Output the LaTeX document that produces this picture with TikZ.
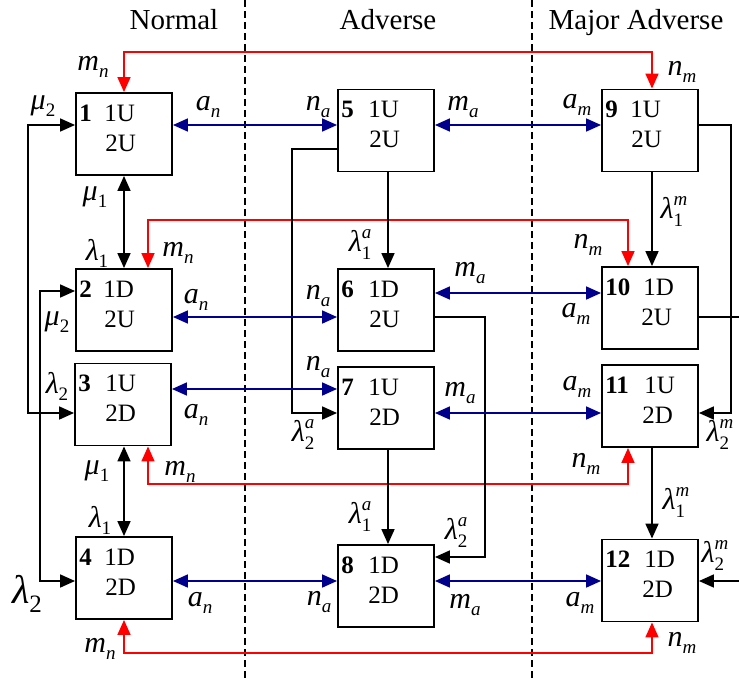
\documentclass[tikz,border=0pt]{standalone}
\usepackage{fontspec}
\setmainfont{Liberation Serif}
\usetikzlibrary{arrows.meta}
\definecolor{navyc}{RGB}{0,0,140}
\definecolor{redc}{RGB}{255,0,0}
\newcommand{\subsz}{\fontsize{19}{19}\selectfont}
\newcommand{\lbA}[2]{\textit{#1}\raisebox{-7pt}{\subsz\textit{#2}}}
\newcommand{\lbN}[2]{\textit{#1}\raisebox{-7pt}{\subsz #2}}
\newcommand{\lbS}[3]{\textit{#1}\rlap{\raisebox{-8pt}{\subsz #2}}\raisebox{13pt}{\subsz\textit{#3}}}
\newcommand{\stbox}[8]{%
  \node[box] (#1) at (#2,#3) {};
  \node[numtxt] (#1n) at ([xshift=4pt,yshift=-29pt]#1.north west) {#4};
  \node[sttxt] (#1a) at ([xshift=#7pt,yshift=-29pt]#1.north west) {#5};
  \node[sttxt] (#1b) at ([xshift=#8pt,yshift=-59pt]#1.north west) {#6};
}
\tikzset{
 box/.style={draw, line width=1.9pt, minimum width=96pt, minimum height=82pt, inner sep=0pt, fill=white},
 conn/.style={line width=1.7pt},
 blk/.style={conn, draw=black},
 blu/.style={conn, draw=navyc},
 rd/.style={conn, draw=redc},
 lab/.style={inner sep=0pt, font=\fontsize{30}{30}\selectfont},
 hdr/.style={inner sep=0pt, anchor=base, font=\fontsize{29}{29}\selectfont},
 numtxt/.style={inner sep=0pt, anchor=base west, font=\fontsize{25}{25}\selectfont\bfseries},
 sttxt/.style={inner sep=0pt, anchor=base west, font=\fontsize{25}{25}\selectfont},
 sepline/.style={line width=1.2pt, dash pattern=on 7pt off 4pt},
}
\begin{document}
\begin{tikzpicture}[x=1pt,y=-1pt,>={Triangle[length=15pt,width=13pt]}]
\useasboundingbox (0,0) rectangle (739,681);
% separators
\coordinate (d1a) at (245,0); \coordinate (d1b) at (245,681);
\coordinate (d2a) at (532,0); \coordinate (d2b) at (532,681);
\draw[sepline] (d1a) -- (d1b);
\draw[sepline] (d2a) -- (d2b);
% headers
\node[hdr] (t1) at (174,29) {Normal};
\node[hdr] (t2) at (388,29) {Adverse};
\node[hdr] (t3) at (636,29) {Major Adverse};
% levels
\coordinate (h125) at (0,125);
\coordinate (h149) at (0,149);
\coordinate (h291) at (0,291);
\coordinate (h293) at (0,293);
\coordinate (h317) at (0,317);
\coordinate (h389) at (0,389);
\coordinate (h413) at (0,413);
\coordinate (h557) at (0,557);
\coordinate (h581) at (0,581);
% boxes
\stbox{b1}{124}{134}{1}{1U}{2U}{29}{30}
\stbox{b2}{124}{310}{2}{1D}{2U}{28}{29}
\stbox{b3}{123}{404.5}{3}{1U}{2D}{31}{31}
\stbox{b4}{124}{578}{4}{1D}{2D}{29}{30}
\stbox{b5}{386}{130.5}{5}{1U}{2U}{31}{32}
\stbox{b6}{386}{310}{6}{1D}{2U}{31}{32}
\stbox{b7}{386}{408}{7}{1U}{2D}{31}{32}
\stbox{b8}{386}{586}{8}{1D}{2D}{31}{31}
\stbox{b9}{650}{130.5}{9}{1U}{2U}{29}{30}
\stbox{b10}{650}{308}{10}{1D}{2U}{42}{40}
\stbox{b11}{650}{406}{11}{1U}{2D}{43}{41}
\stbox{b12}{650}{580.5}{12}{1D}{2D}{43}{41}
% red connectors
\coordinate (r1) at (400,52);
\coordinate (r2) at (400,220);
\coordinate (r3) at (400,484);
\coordinate (r4) at (400,653);
\draw[rd,<->] (b1.north) |- (r1) -| ([xshift=2pt]b9.north);
\draw[rd,<->] ([xshift=24pt]b2.north) |- (r2) -| ([xshift=-22pt]b10.north);
\draw[rd,<->] ([xshift=25pt]b3.south) |- (r3) -| ([xshift=-22pt]b11.south);
\draw[rd,<->] (b4.south) |- (r4) -| ([xshift=2pt]b12.south);
% black connectors
\coordinate (cA) at (28,413);
\coordinate (cB) at (40,581);
\coordinate (cC) at (292,413);
\coordinate (cD) at (485,557);
\coordinate (cE) at (731,413);
\coordinate (eR1) at (739,317);
\coordinate (eR2) at (739,581);
\draw[blk,<->] (b1.south) -- (b1.south |- b2.north);
\draw[blk,<->] (b4.north |- b3.south) -- (b4.north);
\draw[blk,<->] (b1.west |- h125) -| (cA) -- (b3.west |- h413);
\draw[blk,<->] (b2.west |- h291) -| (cB) -- (b4.west |- h581);
\draw[blk,->] ([xshift=2pt]b5.south) -- ([xshift=2pt]b6.north);
\draw[blk,->] (b5.west |- h149) -| (cC) -- (b7.west |- h413);
\draw[blk,->] (b6.east |- h317) -| (cD) -- (b8.east |- h557);
\draw[blk,->] ([xshift=2pt]b7.south) -- ([xshift=2pt]b8.north);
\draw[blk,->] ([xshift=2pt]b9.south) -- ([xshift=2pt]b10.north);
\draw[blk,->] (b9.east |- h125) -| (cE) -- (b11.east |- h413);
\draw[blk] (b10.east |- h317) -- (eR1);
\draw[blk,->] ([xshift=2pt]b11.south) -- ([xshift=2pt]b12.north);
\draw[blk,->] (eR2) -- (b12.east |- h581);
% blue connectors
\draw[blu,<->] (b1.east |- h125) -- (b5.west |- h125);
\draw[blu,<->] (b5.east |- h125) -- (b9.west |- h125);
\draw[blu,<->] (b2.east |- h317) -- (b6.west |- h317);
\draw[blu,<->] (b6.east |- h293) -- (b10.west |- h293);
\draw[blu,<->] (b3.east |- h389) -- (b7.west |- h389);
\draw[blu,<->] (b7.east |- h413) -- (b11.west |- h413);
\draw[blu,<->] (b4.east |- h581) -- (b8.west |- h581);
\draw[blu,<->] (b8.east |- h581) -- (b12.west |- h581);
% labels row 1
\node[lab] (l1) at (93,67) {\lbA{m}{n}};
\node[lab] (l2) at (682,72) {\lbA{n}{m}};
\node[lab] (l3) at (43,106) {\lbN{μ}{2}};
\node[lab] (l4) at (208,107) {\lbA{a}{n}};
\node[lab] (l5) at (318,107) {\lbA{n}{a}};
\node[lab] (l6) at (463,107) {\lbA{m}{a}};
\node[lab] (l7) at (577,105) {\lbA{a}{m}};
\node[lab] (l8) at (95,197) {\lbN{μ}{1}};
\node[lab] (l9) at (674,212) {\lbS{λ}{1}{m}};
% row 2
\node[lab] (l10) at (360,245) {\lbS{λ}{1}{a}};
\node[lab] (l11) at (97,253) {\lbN{λ}{1}};
\node[lab] (l12) at (178,253) {\lbA{m}{n}};
\node[lab] (l13) at (588,245) {\lbA{n}{m}};
\node[lab] (l14) at (470,273) {\lbA{m}{a}};
\node[lab] (l15) at (196,300) {\lbA{a}{n}};
\node[lab] (l16) at (318,296) {\lbA{n}{a}};
\node[lab] (l17) at (576,314) {\lbA{a}{m}};
\node[lab] (l18) at (57,322) {\lbN{μ}{2}};
% row 3
\node[lab] (l19) at (318,367) {\lbA{n}{a}};
\node[lab] (l20) at (57,386) {\lbN{λ}{2}};
\node[lab] (l21) at (577,387) {\lbA{a}{m}};
\node[lab] (l22) at (460,393) {\lbA{m}{a}};
\node[lab] (l23) at (196,415) {\lbA{a}{n}};
\node[lab] (l24) at (303,435) {\lbS{λ}{2}{a}};
\node[lab] (l25) at (720,435) {\lbS{λ}{2}{m}};
\node[lab] (l26) at (586,464) {\lbA{n}{m}};
\node[lab] (l27) at (97,471) {\lbN{μ}{1}};
\node[lab] (l28) at (180,472) {\lbA{m}{n}};
% row 4
\node[lab] (l29) at (676,503) {\lbS{λ}{1}{m}};
\node[lab] (l30) at (360,517) {\lbS{λ}{1}{a}};
\node[lab] (l31) at (100,520) {\lbN{λ}{1}};
\node[lab] (l32) at (456,533) {\lbS{λ}{2}{a}};
\node[lab] (l33) at (715,556) {\lbS{λ}{2}{m}};
\node[inner sep=0pt] (l34) at (27,594) {\fontsize{40}{40}\selectfont\textit{λ}\raisebox{-9pt}{\fontsize{25}{25}\selectfont 2}};
\node[lab] (l35) at (200,603) {\lbA{a}{n}};
\node[lab] (l36) at (319,602) {\lbA{n}{a}};
\node[lab] (l37) at (465,605) {\lbA{m}{a}};
\node[lab] (l38) at (580,603) {\lbA{a}{m}};
\node[lab] (l39) at (682,643) {\lbA{n}{m}};
\node[lab] (l40) at (100,649) {\lbA{m}{n}};
\end{tikzpicture}
\end{document}
